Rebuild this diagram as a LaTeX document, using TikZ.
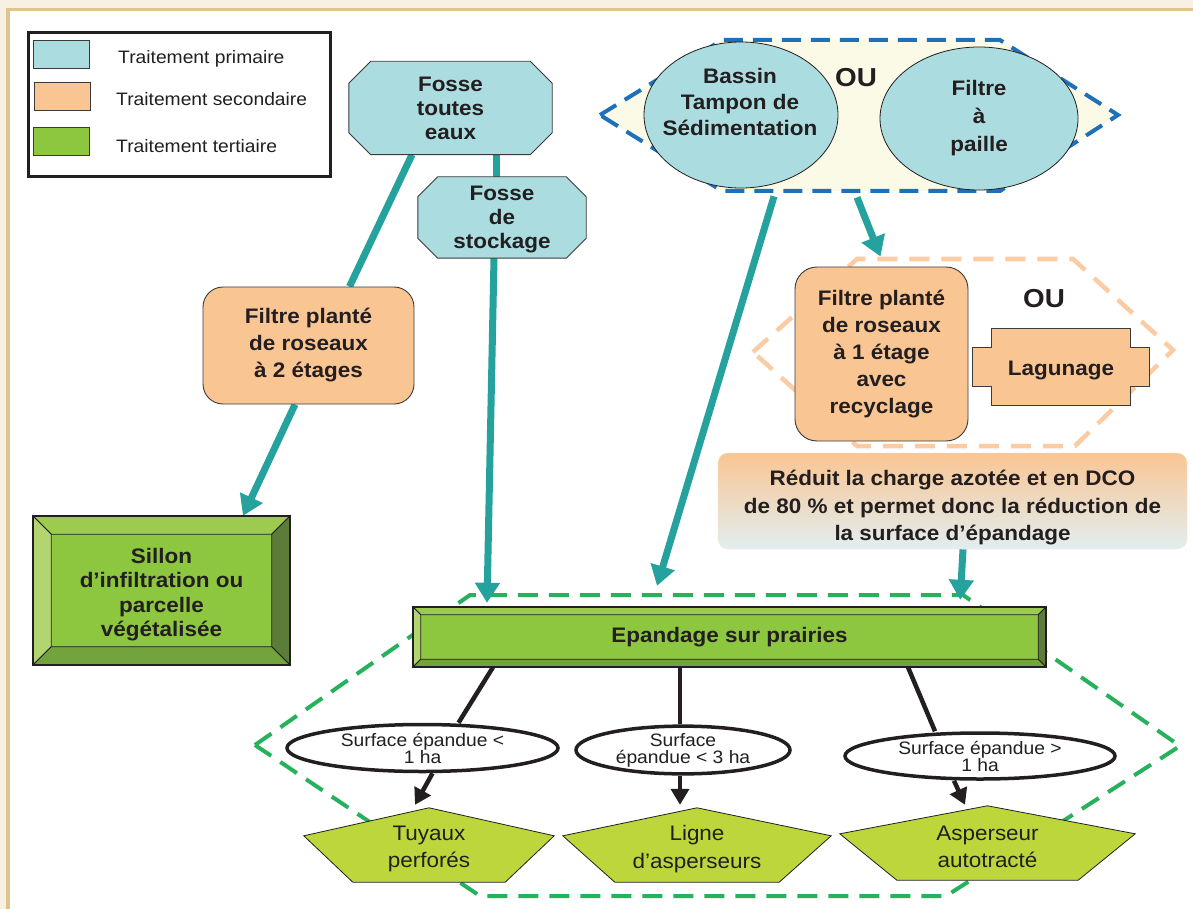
\documentclass[tikz,border=0pt]{standalone}
\usepackage{fontspec}
\setmainfont{Liberation Sans}[FakeStretch=1.07]
\usetikzlibrary{arrows.meta,shapes.geometric,calc}
\pgfdeclarelayer{back}
\pgfdeclarelayer{conn}
\pgfdeclarelayer{shp}
\pgfsetlayers{back,conn,shp,main}

\definecolor{teal1}{HTML}{25A29D}
\definecolor{cyanf}{HTML}{ABDCE0}
\definecolor{orangef}{HTML}{F9C593}
\definecolor{greenf}{HTML}{8DC63F}
\definecolor{gtop}{HTML}{9CCB4E}
\definecolor{gleft}{HTML}{B2D56F}
\definecolor{gright}{HTML}{5B7D39}
\definecolor{gbot}{HTML}{72A33C}
\definecolor{pentf}{HTML}{BDD63B}
\definecolor{blued}{HTML}{1E70BA}
\definecolor{oranged}{HTML}{FBCBA3}
\definecolor{greend}{HTML}{26B15C}
\definecolor{ink}{HTML}{231F20}
\definecolor{beige}{HTML}{F8F0E2}
\definecolor{tanc}{HTML}{E0C48E}
\definecolor{paleyel}{HTML}{FAFAE6}
\definecolor{strk}{HTML}{3A3A3A}
\definecolor{bluegray}{HTML}{E2EEF0}

\newcommand\octshape[2]{%
  \filldraw[fill=cyanf, draw=strk, line width=0.9pt]
   ($(#1.north west)+(#2,0)$) -- ($(#1.north east)+(-#2,0)$) -- ($(#1.north east)+(0,#2)$) --
   ($(#1.south east)+(0,-#2)$) -- ($(#1.south east)+(-#2,0)$) -- ($(#1.south west)+(#2,0)$) --
   ($(#1.south west)+(0,-#2)$) -- ($(#1.north west)+(0,#2)$) -- cycle;}
\newcommand\bevelshape[2]{%
  \fill[greenf] (#1.north west) rectangle (#1.south east);
  \filldraw[fill=gtop, draw=ink, line width=0.8pt] (#1.north west) -- (#1.north east) -- ($(#1.north east)+(-#2,#2)$) -- ($(#1.north west)+(#2,#2)$) -- cycle;
  \filldraw[fill=gleft, draw=ink, line width=0.8pt] (#1.north west) -- ($(#1.north west)+(#2,#2)$) -- ($(#1.south west)+(#2,-#2)$) -- (#1.south west) -- cycle;
  \filldraw[fill=gright, draw=ink, line width=0.8pt] (#1.north east) -- ($(#1.north east)+(-#2,#2)$) -- ($(#1.south east)+(-#2,-#2)$) -- (#1.south east) -- cycle;
  \filldraw[fill=gbot, draw=ink, line width=0.8pt] (#1.south west) -- ($(#1.south west)+(#2,-#2)$) -- ($(#1.south east)+(-#2,-#2)$) -- (#1.south east) -- cycle;
  \draw[ink, line width=1.8pt] (#1.north west) rectangle (#1.south east);}
% name, side drop, bottom inset, bottom lift
\newcommand\pentshape[4]{%
  \filldraw[fill=pentf, draw=ink, line width=0.8pt] (#1.north) -- ($(#1.north east)+(0,#2)$) -- ($(#1.south east)+(-#3,-#4)$) -- ($(#1.south west)+(#3,-#4)$) -- ($(#1.north west)+(0,#2)$) -- cycle;}

\tikzset{
  every node/.style={text=ink, align=center, inner sep=0pt},
  legtxt/.style={font=\fontsize{18}{21}\selectfont, anchor=west},
  swatch/.style={draw=strk, line width=0.9pt, minimum width=56pt, minimum height=28pt},
  boldtxt/.style={font=\fontsize{21}{#1}\selectfont\bfseries},
  octnode/.style={boldtxt=24},
  roundbox/.style={draw=strk, line width=0.9pt, fill=orangef, rounded corners=20pt},
  bigell/.style={ellipse, draw=ink, line width=0.8pt, fill=cyanf},
  smallell/.style={ellipse, draw=ink, line width=3.5pt, fill=white, font=\fontsize{18}{17}\selectfont},
  penttxt/.style={font=\fontsize{21}{27.5}\selectfont, minimum height=82pt},
  outxt/.style={font=\fontsize{26}{30}\selectfont\bfseries},
  tealline/.style={draw=teal1, line width=7pt},
  tealarrow/.style={draw=teal1, line width=7pt, -{Triangle[length=20pt,width=24pt]}},
  blkline/.style={draw=ink, line width=4.5pt},
  blkarrow/.style={draw=ink, line width=4.5pt, -{Triangle[length=16pt,width=18pt]}},
}

\begin{document}
\begin{tikzpicture}[x=1pt, y=-1pt]
\useasboundingbox (0,0) rectangle (1193,909);

% ---------- nodes ----------
\node[draw=ink, line width=3pt, minimum width=302pt, minimum height=144pt] (leg) at (179,105) {};
\node[swatch, fill=cyanf] (sw1) at (61,54) {};
\node[swatch, fill=orangef] (sw2) at (62.5,96) {};
\node[swatch, fill=greenf] (sw3) at (61,141) {};
\node[legtxt] (lt1) at (118,59) {Traitement primaire};
\node[legtxt] (lt2) at (116,99) {Traitement secondaire};
\node[legtxt] (lt3) at (116,146) {Traitement tertiaire};

\node[octnode, minimum width=203pt, minimum height=93pt] (fte) at (450.5,108) {Fosse\\toutes\\eaux};
\node[octnode, minimum width=168pt, minimum height=81pt] (fds) at (502,217.5) {};
\node[octnode] (fdstxt) at (502,220) {Fosse\\de\\stockage};

\node[roundbox, boldtxt=27, minimum width=211pt, minimum height=117pt] (f2) at (308.5,345.5) {Filtre planté\\de roseaux\\ à 2 étages};

\node[minimum width=257pt, minimum height=149pt] (sil) at (161.5,590.5) {};
\node[boldtxt=24.5] (siltxt) at (161.5,594.5) {Sillon\\d’infiltration ou\\parcelle\\végétalisée};

\node[bigell, minimum width=194pt, minimum height=146pt] (bas) at (741,115) {};
\node[boldtxt=26] (bastxt) at (740,102) {Bassin\\Tampon de\\Sédimentation};
\node[bigell, boldtxt=28, minimum width=198pt, minimum height=143pt] (fap) at (979,118.5) {Filtre\\à\\paille};
\node[outxt] (ou1) at (856,78) {OU};

\node[roundbox, rounded corners=22pt, boldtxt=27, minimum width=173pt, minimum height=174pt] (f1) at (881.5,354) {Filtre planté\\de roseaux\\à 1 étage\\avec\\recyclage};
\node[minimum width=138pt, minimum height=76pt] (lag) at (1061,367) {};
\node[boldtxt=24] (lagtxt) at (1061,370) {Lagunage};
\node[outxt] (ou2) at (1044,299) {OU};

\node[rounded corners=10pt, top color=orangef, bottom color=bluegray, draw=oranged!60, densely dotted, line width=0.6pt,
      minimum width=469pt, minimum height=96pt] (red) at (952.5,501) {};
\node[boldtxt=27.5] (redtxt) at (952.5,508)
      {Réduit la charge azotée et en DCO\\de 80 \% et permet donc la réduction de\\la surface d’épandage};

\node[boldtxt=24, minimum width=633pt, minimum height=60pt] (ep) at (729.5,637) {Epandage sur prairies};

\node[smallell, minimum width=271pt, minimum height=47pt] (e1) at (422.5,748) {Surface épandue <\\1 ha};
\node[smallell, minimum width=214pt, minimum height=46pt] (e2) at (683,750) {Surface\\épandue < 3 ha};
\node[smallell, minimum width=270pt, minimum height=46pt] (e3) at (980,756) {Surface épandue >\\1 ha};

\node[penttxt, minimum width=250pt] (p1) at (429,849) {Tuyaux\\perforés};
\node[penttxt, minimum width=268pt] (p2) at (697,849) {Ligne\\d’asperseurs};
\node[penttxt, minimum width=295pt] (p3) at (987.5,847) {Asperseur\\autotracté};

% ---------- background & group outlines ----------
\begin{pgfonlayer}{back}
  \fill[beige] (0,0) rectangle (1193,909);
  \fill[white] (9,11) rectangle (1193,909);
  \draw[tanc, line width=3.5pt] (8,909) -- (8,9.5) -- (1193,9.5);
  \filldraw[fill=paleyel, draw=blued, line width=4pt, dash pattern=on 19pt off 10pt]
    (600,115) -- (722,40) -- (1000,40) -- (1118,115) -- (1000,191) -- (722,191) -- cycle;
  \draw[oranged, line width=4.5pt, dash pattern=on 20pt off 12pt]
    (753,352) -- (857,259) -- (1073,259) -- (1173,350) -- (1075,446) -- (857,446) -- cycle;
  \draw[greend, line width=4pt, dash pattern=on 20pt off 11pt]
    (255,745) -- (470,595) -- (963,595) -- (1180,746) -- (946,896) -- (480,896) -- cycle;
\end{pgfonlayer}

% ---------- shapes drawn behind texts ----------
\begin{pgfonlayer}{shp}
  \octshape{fte}{22}
  \octshape{fds}{20}
  \bevelshape{sil}{18.5}
  \bevelshape{ep}{8}
  \filldraw[fill=orangef, draw=strk, line width=0.9pt]
    (lag.north west) -- (lag.north east) -- ($(lag.north east)+(0,19)$) -- ($(lag.north east)+(19,19)$) --
    ($(lag.south east)+(19,-19)$) -- ($(lag.south east)+(0,-19)$) -- (lag.south east) -- (lag.south west) --
    ($(lag.south west)+(0,-19)$) -- ($(lag.south west)+(-19,-19)$) -- ($(lag.north west)+(-19,19)$) --
    ($(lag.north west)+(0,19)$) -- cycle;
  \pentshape{p1}{28}{49}{8}
  \pentshape{p2}{28}{52}{8}
  \pentshape{p3}{28}{57}{8}
\end{pgfonlayer}

% ---------- connectors ----------
\begin{pgfonlayer}{conn}
  \draw[tealline] ($(fte.south)+(-38.5,0)$) -- ($(f2.north)+(41,0)$);
  \draw[tealarrow] ($(f2.south)+(-13.5,0)$) -- ($(sil.north)+(81.5,0)$);
  \draw[tealline] ($(fte.south)+(45.5,0)$) -- ($(fds.north)+(-6,0)$);
  \draw[tealarrow] ($(fds.south)+(-8,0)$) -- ($(ep.north)+(-242.5,-4)$);
  \draw[tealarrow] ($(bas.south)+(33,8)$) -- ($(ep.north)+(-72.5,-21)$);
  \draw[tealarrow] ($(fap.south)+(-122,7)$) -- ($(f1.north)+(-1,-10)$);
  \draw[tealarrow] ($(red.south)+(10.5,0)$) -- ($(ep.north east)+(-86,-7)$);

  \draw[blkline] ($(ep.south)+(-236.5,0)$) -- ($(e1.north)+(36,0)$);
  \draw[blkarrow] ($(e1.south)+(10,0)$) -- ($(p1.north)+(-14,-3)$);
  \draw[blkline] ($(ep.south)+(-49.5,0)$) -- ($(e2.north)+(-3,0)$);
  \draw[blkarrow] ($(e2.south)+(-3,0)$) -- ($(p2.north)+(-17,-3)$);
  \draw[blkline] ($(ep.south)+(178.5,0)$) -- ($(e3.north)+(-45,0)$);
  \draw[blkarrow] ($(e3.south)+(-26,0)$) -- ($(p3.north)+(-22.5,-1)$);
\end{pgfonlayer}
\end{tikzpicture}
\end{document}
